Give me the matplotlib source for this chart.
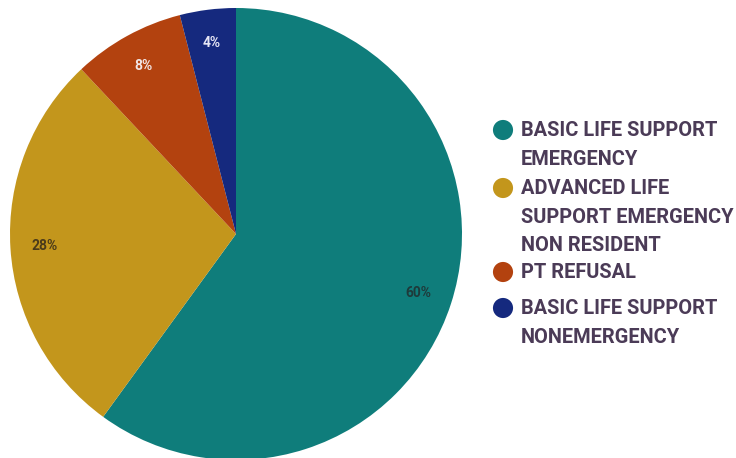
import matplotlib.pyplot as plt

# call types and their share of responses
labels = [
    "BASIC LIFE SUPPORT\nEMERGENCY",
    "ADVANCED LIFE\nSUPPORT EMERGENCY\nNON RESIDENT",
    "PT REFUSAL",
    "BASIC LIFE SUPPORT\nNONEMERGENCY",
]
shares = [60, 28, 8, 4]
colors = ["#0f7d7b", "#c3961c", "#b3420f", "#15297e"]
pct_colors = ["#1e3a3a", "#4a3a1a", "#f2e6e6", "#e6e6f5"]

fig = plt.figure(figsize=(7.36, 4.58), dpi=100)

# pie axes, centre at (236, 234) px, radius 226 px
W, H = 736, 458
cx, cy, r = 236, 234, 226
ax = fig.add_axes([(cx - r) / W, (H - cy - r) / H, 2 * r / W, 2 * r / H])
wedges, texts, autotexts = ax.pie(
    shares,
    colors=colors,
    startangle=90,
    counterclock=False,
    autopct="%d%%",
    pctdistance=0.85,
    radius=1,
    wedgeprops=dict(linewidth=0),
    textprops=dict(fontsize=10, fontweight="bold", family="Roboto"),
)
for t, c in zip(autotexts, pct_colors):
    t.set_color(c)
ax.set_xlim(-1, 1)
ax.set_ylim(-1, 1)
ax.set_aspect("equal")
ax.axis("off")

# legend drawn in pixel coordinates
lax = fig.add_axes([0, 0, 1, 1], zorder=-1)
lax.set_xlim(0, W)
lax.set_ylim(H, 0)
lax.axis("off")

entry_y = [130, 188, 272, 308]
for lab, col, y in zip(labels, colors, entry_y):
    lax.scatter([503], [y], s=210, color=col, edgecolor="none")
    lax.text(521, y - 8.5, lab, va="top", ha="left", fontsize=14.4,
             family="Roboto", fontweight="bold", color="#4b3b57",
             linespacing=1.62)

fig.savefig("out.png", dpi=100, facecolor="white")
